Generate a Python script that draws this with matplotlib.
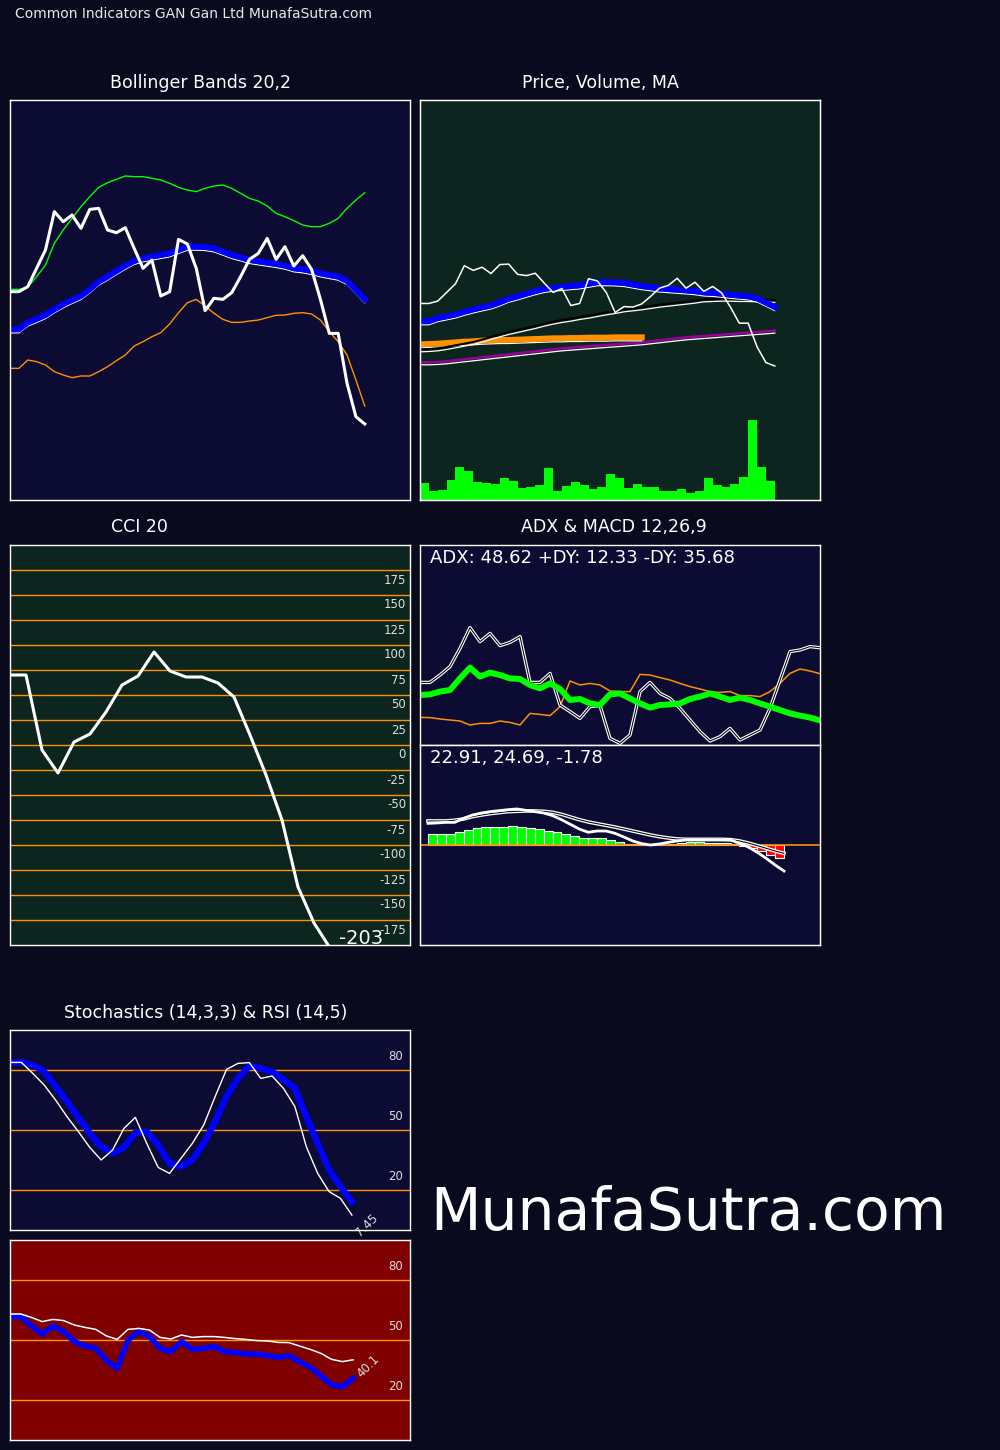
import matplotlib
matplotlib.use('Agg')
import matplotlib.pyplot as plt
import matplotlib.transforms as mtrans

plt.rcParams['font.family'] = ['DejaVu Sans']

# ---- data ----
close = [58.96, 58.96, 59.67, 62.27, 64.87, 70.30, 68.88, 69.83, 67.94, 70.63,
         70.77, 67.70, 67.32, 68.03, 65.10, 62.27, 63.45, 58.35, 58.96, 66.38,
         65.72, 62.27, 56.27, 58.02, 57.87, 58.82, 61.09, 63.54, 64.39, 66.52,
         63.54, 65.34, 62.60, 64.06, 62.13, 57.87, 53.05, 53.05, 45.97, 41.24, 40.20]
sma20 = [53.62, 53.62, 54.57, 55.09, 55.65, 56.46, 57.17, 57.78, 58.35, 59.29,
         60.38, 61.09, 61.89, 62.65, 63.31, 63.69, 63.92, 64.16, 64.39, 64.87,
         65.34, 65.34, 65.29, 65.10, 64.63, 64.16, 63.83, 63.45, 63.26, 63.07,
         62.88, 62.65, 62.27, 62.13, 61.89, 61.56, 61.32, 61.09, 60.47, 59.20, 57.87]
bb_upper = [59.29, 59.29, 59.58, 61.09, 62.74, 65.81, 67.70, 69.36, 71.01, 72.43,
            73.75, 74.41, 74.88, 75.36, 75.26, 75.26, 75.03, 74.79, 74.32, 73.75,
            73.37, 73.14, 73.61, 73.94, 74.08, 73.61, 72.90, 72.19, 71.81, 71.10,
            70.06, 69.59, 69.03, 68.41, 68.17, 68.17, 68.65, 69.36, 70.77, 71.95, 72.99]
bb_lower = [48.09, 48.09, 49.27, 49.04, 48.57, 47.62, 47.15, 46.77, 47.01, 47.01,
            47.62, 48.33, 49.18, 49.98, 51.26, 51.87, 52.58, 53.15, 54.38, 55.98,
            57.40, 57.87, 56.93, 55.89, 55.04, 54.61, 54.61, 54.80, 54.94, 55.28,
            55.61, 55.65, 55.89, 55.98, 55.80, 54.94, 53.29, 51.87, 49.98, 46.44, 42.75]
ma50 = [45.2, 45.3, 45.5, 45.9, 46.4, 46.9, 47.4, 48.1, 48.9, 49.7,
        50.4, 51.0, 51.6, 52.2, 52.9, 53.5, 54.0, 54.4, 54.9, 55.3,
        55.8, 56.3, 56.7, 57.2, 57.5, 57.8, 58.2, 58.6, 58.9, 59.2,
        59.5, 59.8, 60.2, 60.3, 60.4, 60.4, 60.3, 60.3, 60.2, 60.1, 60.0]
ma100 = [46.7, 46.8, 46.9, 47.1, 47.3, 47.5, 47.6, 47.8, 47.9, 48.0,
         48.0, 48.1, 48.2, 48.3, 48.4, 48.5, 48.5, 48.6, 48.6, 48.7,
         48.7, 48.7, 48.8, 48.8, 48.8, 48.8]
ma200 = [41.3, 41.3, 41.4, 41.6, 41.9, 42.2, 42.5, 42.8, 43.1, 43.4,
         43.7, 44.0, 44.3, 44.6, 44.9, 45.2, 45.5, 45.7, 45.9, 46.1,
         46.3, 46.5, 46.7, 46.9, 47.1, 47.3, 47.6, 47.9, 48.2, 48.5,
         48.8, 49.0, 49.2, 49.4, 49.6, 49.8, 50.0, 50.2, 50.4, 50.6, 50.8]
volume = [5000, 2800, 3000, 6000, 9900, 8800, 5400, 5000, 4800, 6600,
          5700, 3600, 3900, 4400, 9600, 2800, 4200, 5400, 4500, 3300,
          3900, 7800, 6600, 3600, 4800, 3900, 3900, 2700, 2700, 3300,
          2100, 2700, 6600, 4500, 3900, 4800, 6900, 24000, 9900, 5700]

cci = [70, 70, -5, -28, 3, 11, 33, 60, 69, 93, 74, 68, 68, 62, 48, 10,
       -30, -75, -142, -178, -203]
cci_levels = [175, 150, 125, 100, 75, 50, 25, 0, -25, -50, -75, -100, -125, -150, -175]

adx = [31.3, 31.3, 35.0, 39.2, 48.3, 58.7, 51.7, 55.8, 49.7, 51.3,
       54.2, 31.3, 31.3, 35.8, 20.0, 16.7, 13.3, 19.2, 19.7, 3.3,
       0.8, 5.0, 26.7, 31.3, 25.8, 23.3, 18.3, 12.5, 6.7, 2.0,
       4.2, 8.3, 2.5, 5.0, 7.5, 18.3, 32.5, 46.7, 47.5, 49.2, 48.62]
plus_di = [25.0, 25.3, 26.7, 27.5, 33.3, 38.7, 34.2, 36.2, 35.0, 33.3,
           33.0, 30.0, 28.3, 30.8, 28.0, 22.5, 23.0, 20.8, 20.0, 25.3,
           25.8, 23.3, 20.8, 18.7, 20.0, 20.3, 20.8, 23.0, 24.2, 25.8,
           24.2, 22.5, 23.7, 22.5, 20.8, 19.2, 17.5, 15.8, 14.7, 13.7, 12.33]
minus_di = [13.8, 13.7, 13.0, 12.5, 12.0, 10.0, 10.8, 10.8, 12.0, 11.3,
            10.0, 15.8, 15.3, 14.7, 19.2, 32.0, 30.0, 30.8, 30.0, 27.0,
            26.7, 26.7, 35.3, 35.0, 33.7, 32.5, 30.8, 29.2, 28.0, 26.7,
            26.3, 26.7, 24.7, 24.7, 24.2, 26.7, 30.8, 35.8, 38.0, 37.0, 35.68]

macd = [27.71, 27.75, 27.81, 27.81, 28.22, 28.55, 28.75, 28.89, 28.99, 29.09,
        29.16, 29.02, 28.89, 28.75, 28.49, 28.08, 27.61, 27.14, 26.81, 26.94,
        26.94, 26.71, 26.34, 25.94, 25.67, 25.53, 25.63, 25.80, 25.94, 26.04,
        26.04, 26.04, 26.04, 26.04, 26.04, 25.70, 25.33, 24.79, 24.19, 23.52, 22.91]
signal = [27.95, 27.95, 27.95, 28.02, 28.15, 28.39, 28.55, 28.69, 28.79, 28.89,
          28.92, 28.96, 28.96, 28.92, 28.82, 28.62, 28.35, 28.08, 27.85, 27.68,
          27.51, 27.34, 27.14, 26.94, 26.74, 26.54, 26.37, 26.24, 26.14, 26.10,
          26.10, 26.10, 26.10, 26.10, 26.07, 25.94, 25.73, 25.47, 25.20, 24.93, 24.69]
hist = [1.42, 1.51, 1.51, 1.78, 2.04, 2.22, 2.36, 2.36, 2.36, 2.49,
        2.36, 2.22, 2.09, 1.91, 1.69, 1.42, 1.16, 0.89, 0.89, 0.89,
        0.71, 0.44, 0.18, 0.09, 0.0, 0.02, 0.04, 0.13, 0.27, 0.36,
        0.44, 0.31, 0.31, 0.31, 0.09, -0.09, -0.36, -0.80, -1.33, -1.78]

stoch_k = [83.8, 83.8, 78.3, 72.5, 65.0, 56.7, 49.2, 41.3, 35.0, 40.0,
           50.8, 56.3, 43.3, 31.3, 28.3, 35.8, 43.3, 52.5, 66.7, 80.3,
           83.3, 83.7, 75.8, 77.0, 70.8, 61.7, 41.7, 28.3, 19.2, 15.8, 7.45]
stoch_d = [83.8, 83.8, 82.5, 79.2, 71.7, 64.2, 56.3, 48.3, 41.7, 38.3,
           41.3, 48.7, 49.2, 42.5, 33.3, 31.7, 35.0, 43.3, 54.2, 66.7,
           75.8, 82.0, 80.8, 79.2, 75.3, 70.8, 56.7, 43.3, 30.0, 21.7, 14.2]
rsi = [63.0, 63.0, 61.3, 59.2, 60.3, 59.7, 57.5, 56.3, 55.3, 52.0,
       50.3, 55.3, 55.8, 55.0, 51.3, 50.5, 52.5, 51.3, 51.7, 51.7,
       51.3, 50.7, 50.3, 49.7, 49.5, 48.8, 48.7, 47.0, 45.3, 43.3,
       40.3, 39.2, 40.1]
rsi_fast = [61.7, 61.7, 57.0, 53.0, 57.0, 54.2, 49.2, 47.0, 45.8, 39.7,
            35.8, 50.0, 54.2, 51.7, 45.8, 44.2, 49.2, 45.3, 45.8, 46.7,
            44.2, 43.8, 43.0, 43.0, 42.2, 41.3, 42.2, 39.2, 36.3, 32.0,
            27.5, 26.7, 30.8]
osc_levels = [80, 50, 20]

# ---- colours ----
BG = '#0a0a1f'
NAVY = '#0b0b34'
DKGREEN = '#0c261f'
MAROON = '#800000'
ORANGE = '#ff9000'
GREEN = '#00ff00'
BLUE = '#0000ff'
PURPLE = '#990099'
LBL = '#dddddd'

fig = plt.figure(figsize=(10, 14.5), dpi=100, facecolor=BG)


def panel(x, y, w, h, bg):
    ax = fig.add_axes([x / 1000., 1 - (y + h) / 1450., w / 1000., h / 1450.])
    ax.set_facecolor(bg)
    ax.set_xticks([])
    ax.set_yticks([])
    for s in ax.spines.values():
        s.set_color('white')
        s.set_linewidth(1)
    return ax


def shifted(ax, dy):
    return mtrans.offset_copy(ax.transData, fig=fig, x=0, y=dy, units='dots')


def title(xc, yc, txt):
    fig.text(xc / 1000., 1 - yc / 1450., txt, color='white', fontsize=12.5,
             ha='center', va='center')


fig.text(0.015, 1 - 14 / 1450., 'Common Indicators GAN Gan Ltd MunafaSutra.com',
         color='#e8e8e8', fontsize=10, ha='left', va='center')

# ---- Bollinger bands ----
ax = panel(10, 100, 400, 400, NAVY)
xs = range(len(close))
ax.plot(xs, bb_upper, color=GREEN, lw=1.0)
ax.plot(xs, bb_lower, color=ORANGE, lw=1.0)
ax.plot(xs, sma20, color='white', lw=0.9, transform=shifted(ax, -3.5))
ax.plot(xs, sma20, color=BLUE, lw=4.3)
ax.plot(xs, close, color='white', lw=2.2)
ax.set_xlim(0, 45.1)
ax.set_ylim(29.43, 86.13)
title(201, 83, 'Bollinger Bands 20,2')

# ---- Price, volume, MA ----
ax = panel(420, 100, 400, 400, DKGREEN)
axv = ax.twinx()
axv.bar(range(len(volume)), volume, width=1.0, align='edge', color=GREEN, lw=0)
axv.set_ylim(0, 120000)
axv.set_yticks([])
ax.set_zorder(axv.get_zorder() + 1)
ax.patch.set_visible(False)
axv.patch.set_visible(True)
axv.patch.set_facecolor(DKGREEN)
ax.plot(range(len(ma200)), ma200, color='white', lw=0.9, transform=shifted(ax, -2.5))
ax.plot(range(len(ma200)), ma200, color=PURPLE, lw=1.8)
ax.plot(range(len(ma100)), ma100, color='white', lw=0.9, transform=shifted(ax, -3.5))
ax.plot(range(len(ma100)), ma100, color=ORANGE, lw=4.3)
ax.plot(range(len(ma50)), ma50, color='white', lw=0.9, transform=shifted(ax, -2.5))
ax.plot(range(len(ma50)), ma50, color='black', lw=1.5)
ax.plot(xs, sma20, color='white', lw=0.9, transform=shifted(ax, -3.5))
ax.plot(xs, sma20, color=BLUE, lw=4.3)
ax.plot(xs, close, color='white', lw=1.1)
ax.set_xlim(0, 45.1)
ax.set_ylim(0, 120)
for s in axv.spines.values():
    s.set_color('white')
title(600, 83, 'Price, Volume, MA')

# ---- CCI ----
ax = panel(10, 545, 400, 400, DKGREEN)
for lv in cci_levels:
    ax.axhline(lv, color=ORANGE, lw=1.0)
    ax.text(0.99, lv - 10, str(lv), transform=ax.get_yaxis_transform(),
            color=LBL, fontsize=8.5, ha='right', va='center')
ax.plot(range(len(cci)), cci, color='white', lw=2.2)
ax.set_xlim(0, 25)
ax.set_ylim(-200, 200)
ax.text(0.933, 0.003, str(cci[-1]), transform=ax.transAxes, color='white',
        fontsize=14, ha='right', va='baseline')
title(139, 527, 'CCI 20')

# ---- ADX ----
ax = panel(420, 545, 400, 200, NAVY)
xa = range(len(adx))
ax.plot(xa, minus_di, color=ORANGE, lw=1.1)
ax.plot(xa, adx, color='white', lw=2.4)
ax.plot(xa, adx, color='black', lw=0.75)
ax.plot(xa, plus_di, color=GREEN, lw=4.3)
ax.set_xlim(0, 40)
ax.set_ylim(0, 100)
ax.text(0.025, 0.935, 'ADX: %.2f +DY: %.2f -DY: %.2f' % (adx[-1], plus_di[-1], minus_di[-1]),
        transform=ax.transAxes, color='white', fontsize=13, ha='left', va='center')
title(614, 527, 'ADX & MACD 12,26,9')

# ---- MACD ----
ax = panel(420, 745, 400, 200, NAVY)
cols = [GREEN if v >= 0 else '#ff0000' for v in hist]
ax.bar(range(len(hist)), hist, width=1.0, align='edge', color=cols,
       edgecolor='white', lw=0.8)
ax.axhline(0, color=ORANGE, lw=1.2)
ax.set_xlim(-0.9, 44.05)
ax.set_ylim(-13.33, 13.33)
axm = ax.twinx()
axm.set_yticks([])
xm = range(len(macd))
axm.plot(xm, signal, color='white', lw=2.6)
axm.plot(xm, signal, color='black', lw=0.75)
axm.plot(xm, macd, color='white', lw=2.0)
axm.set_ylim(15.46, 35.6)
for s in axm.spines.values():
    s.set_color('white')
ax.text(0.025, 0.935, '%.2f, %.2f, %.2f' % (macd[-1], signal[-1], hist[-1]),
        transform=ax.transAxes, color='white', fontsize=13, ha='left', va='center')

# ---- Stochastics ----
ax = panel(10, 1030, 400, 200, NAVY)
for lv in osc_levels:
    ax.axhline(lv, color=ORANGE, lw=1.0)
    ax.text(0.983, lv + 7, str(lv), transform=ax.get_yaxis_transform(),
            color=LBL, fontsize=8.5, ha='right', va='center')
xk = range(len(stoch_k))
ax.plot(xk, stoch_d, color=BLUE, lw=4.6)
ax.plot(xk, stoch_k, color='white', lw=1.0)
ax.set_xlim(0, 35.1)
ax.set_ylim(0, 100)
ax.annotate('%.2f' % stoch_k[-1], (len(stoch_k) - 1, stoch_k[-1]),
            xytext=(6, -16), textcoords='offset points', color=LBL, fontsize=8.5,
            rotation=45, rotation_mode='anchor', ha='left', va='baseline',
            annotation_clip=False)
title(206, 1013, 'Stochastics (14,3,3) & RSI (14,5)')

# ---- RSI ----
ax = panel(10, 1240, 400, 200, MAROON)
for lv in osc_levels:
    ax.axhline(lv, color=ORANGE, lw=1.0)
    ax.text(0.983, lv + 7, str(lv), transform=ax.get_yaxis_transform(),
            color=LBL, fontsize=8.5, ha='right', va='center')
xr = range(len(rsi))
ax.plot(xr, rsi_fast, color=BLUE, lw=4.0)
ax.plot(xr, rsi, color='white', lw=1.1)
ax.set_xlim(0, 37.3)
ax.set_ylim(0, 100)
ax.annotate('%.1f' % rsi[-1], (len(rsi) - 1, rsi[-1]),
            xytext=(6, -13), textcoords='offset points', color=LBL, fontsize=8.5,
            rotation=45, rotation_mode='anchor', ha='left', va='baseline',
            annotation_clip=False)

fig.text(0.43, 1 - 1230 / 1450., 'MunafaSutra.com', color='white', fontsize=42,
         ha='left', va='baseline')

fig.savefig('out.png', dpi=100, facecolor=fig.get_facecolor())
